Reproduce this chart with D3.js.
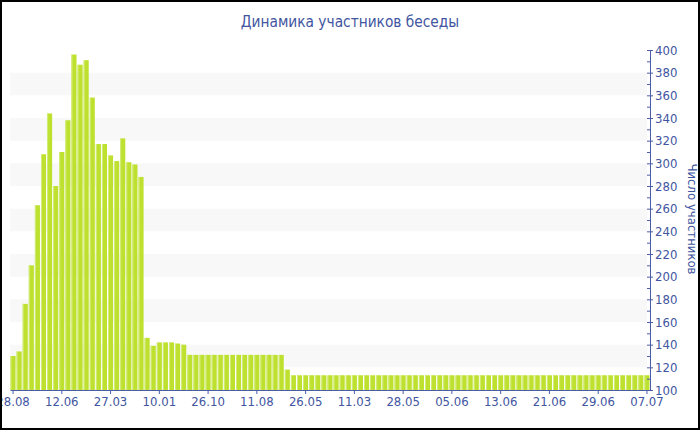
<!DOCTYPE html>
<html><head><meta charset="utf-8">
<script src="https://cdn.jsdelivr.net/npm/d3@7"></script>
<style>
body{margin:0;background:#fff;}
svg{display:block;}
text{font-family:"DejaVu Sans Condensed","DejaVu Sans",Verdana,sans-serif;}
</style></head>
<body><svg id="c" width="700" height="430"></svg>
<script>
const title = "Динамика участников беседы";
const yTitle = "Число участников";
const values = [130,134,176,210,263,308,344,280,310,338,396,387,391,358,317,317,307,302,322,301,299,288,
  146,139,142,142,142,141,140,
  131,131,131,131,131,131,131,131,131,131,131,131,131,131,131,131,
  118,
  113,113,113,113,113,113,113,113,113,113,113,113,113,113,113,113,113,113,113,113,
  113,113,113,113,113,113,113,113,113,113,113,113,113,113,113,113,113,113,113,113,
  113,113,113,113,113,113,113,113,113,113,113,113,113,113,113,113,113,113,113];
const tickLabels = ["28.08","12.06","27.03","10.01","26.10","11.08","26.05","11.03","28.05","05.06","13.06","21.06","29.06","07.07"];
const tickEvery = 8;
const yTicks = [100,120,140,160,180,200,220,240,260,280,300,320,340,360,380,400];
const bandStarts = [120,160,200,240,280,320,360];

const textColor = "#4155a0";
const axisColor = "#4b5da8";
const svg = d3.select("#c");

const x = d3.scaleBand().domain(d3.range(values.length)).range([10,650]).paddingInner(0.17).paddingOuter(0.085);
const y = d3.scaleLinear().domain([100,400]).range([390,50]);

// background bands
svg.append("g").selectAll("rect").data(bandStarts).join("rect")
  .attr("x",10).attr("width",637)
  .attr("y",d=>y(d+20)).attr("height",d=>y(d)-y(d+20))
  .attr("fill","#f8f8f8");

// bars
svg.append("g").selectAll("rect").data(values).join("rect")
  .attr("x",(d,i)=>x(i)).attr("width",x.bandwidth())
  .attr("y",d=>y(d)).attr("height",d=>y(100)-y(d))
  .attr("fill","#bde12e");
svg.append("g").selectAll("line").data(values).join("line")
  .attr("x1",(d,i)=>x(i)+0.5).attr("x2",(d,i)=>x(i)+0.5)
  .attr("y1",d=>y(d)).attr("y2",y(100))
  .attr("stroke","#d3ec7c").attr("stroke-width",1);

// x axis
const tickIdx = tickLabels.map((t,k)=>k*tickEvery);
const xAxis = d3.axisBottom(x).tickValues(tickIdx).tickFormat(i=>tickLabels[i/tickEvery]).tickSize(4).tickPadding(3).tickSizeOuter(0);
const gx = svg.append("g").attr("transform","translate(0,390)").call(xAxis);
gx.select(".domain").attr("stroke",axisColor);
gx.selectAll(".tick line").attr("stroke",axisColor);
gx.selectAll("text").attr("fill",textColor).attr("font-size",13).attr("font-family",null);

// y axis minor/left ticks
const gyl = svg.append("g").attr("transform","translate(650,0)")
  .call(d3.axisLeft(y).tickValues(d3.range(100,401,10)).tickSize(3).tickFormat(""));
gyl.select(".domain").remove();
gyl.selectAll(".tick line").attr("stroke",axisColor);
// y axis
const gy = svg.append("g").attr("transform","translate(650,0)")
  .call(d3.axisRight(y).tickValues(yTicks).tickSize(3).tickPadding(2).tickSizeOuter(0));
gy.select(".domain").attr("stroke",axisColor);
gy.selectAll(".tick line").attr("stroke",axisColor);
gy.selectAll("text").attr("fill",textColor).attr("font-size",13).attr("font-family",null);

// titles
svg.append("text").attr("x",350).attr("y",27).attr("text-anchor","middle")
  .attr("fill",textColor).attr("font-size",15.3).text(title);
svg.append("text").attr("transform","translate(688,219) rotate(90)").attr("text-anchor","middle")
  .attr("fill",textColor).attr("font-size",13).text(yTitle);

// border
svg.append("rect").attr("x",1).attr("y",1).attr("width",698).attr("height",428)
  .attr("fill","none").attr("stroke","#000").attr("stroke-width",2);
</script></body></html>
